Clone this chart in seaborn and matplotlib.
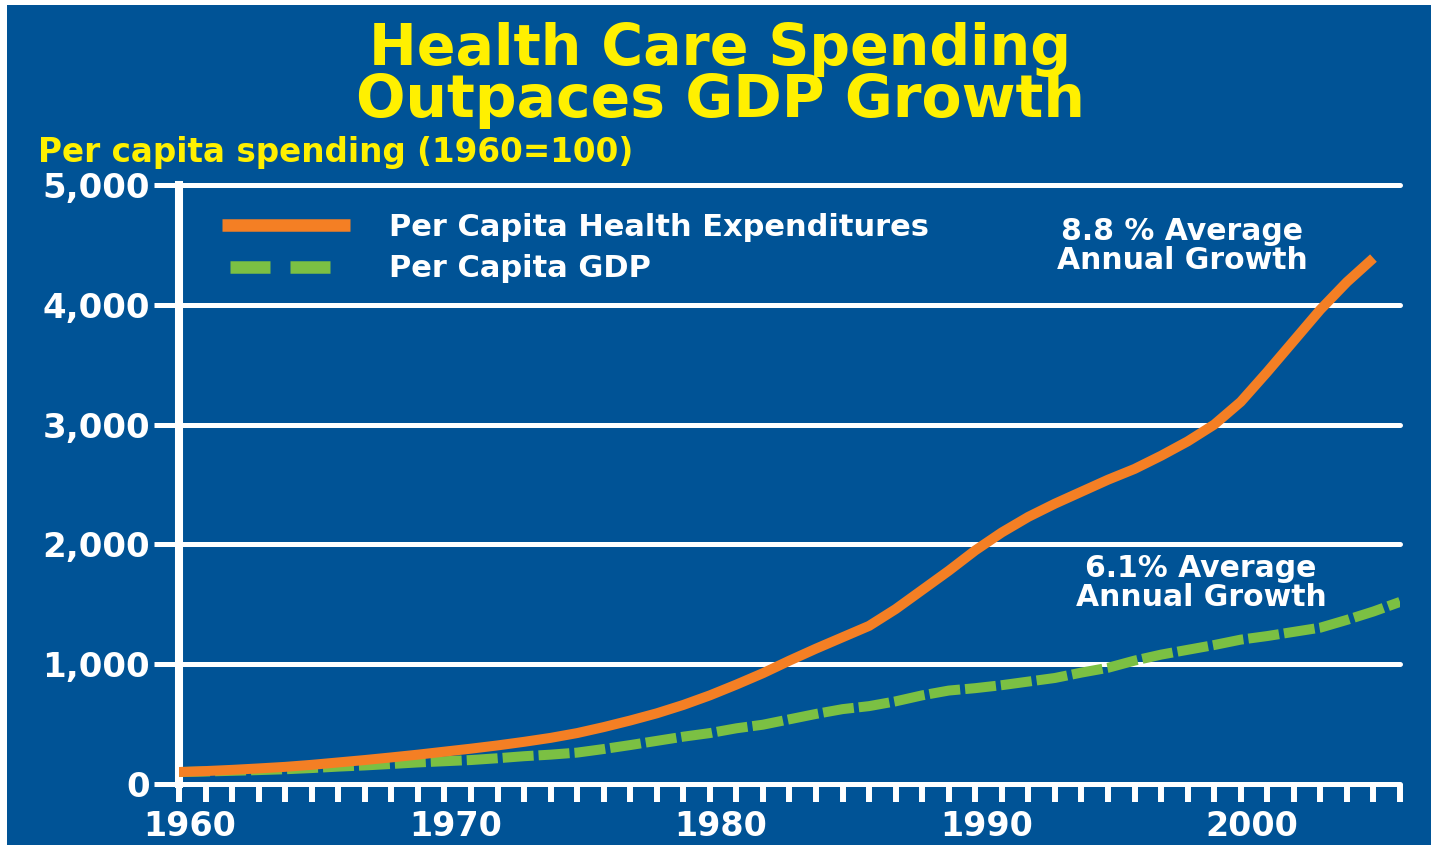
import matplotlib
matplotlib.use("Agg")
import matplotlib.pyplot as plt
import matplotlib.transforms as mtransforms
from matplotlib.lines import Line2D
from matplotlib.patches import Rectangle
import seaborn as sns

# ---- data (index, 1960 = 100) ----
years_health = list(range(1960, 2006))
health = [100, 108, 118, 130, 143, 160, 180, 200, 222, 245,
          270, 295, 322, 352, 385, 425, 475, 530, 590, 660,
          740, 830, 925, 1030, 1130, 1225, 1320, 1460, 1620, 1780,
          1950, 2100, 2230, 2340, 2440, 2540, 2630, 2740, 2860, 3000,
          3190, 3440, 3700, 3960, 4190, 4390]

years_gdp = list(range(1960, 2007))
gdp = [100, 104, 110, 116, 123, 133, 145, 155, 167, 180,
       190, 200, 215, 232, 245, 262, 292, 325, 360, 395,
       425, 465, 495, 540, 585, 625, 650, 690, 740, 780,
       800, 825, 855, 885, 930, 970, 1030, 1080, 1120, 1160,
       1205, 1235, 1270, 1305, 1370, 1440, 1520]

series_names = ["Per Capita Health Expenditures", "Per Capita GDP"]
y_ticks = [0, 1000, 2000, 3000, 4000, 5000]
x_label_years = [1960, 1970, 1980, 1990, 2000]
title_lines = ["Health Care Spending", "Outpaces GDP Growth"]
subtitle = "Per capita spending (1960=100)"
health_note = "8.8 % Average\nAnnual Growth"
gdp_note = "6.1% Average\nAnnual Growth"

# ---- style ----
BLUE = "#005396"
ORANGE = "#F47F24"
GREEN = "#7BC043"
YELLOW = "#FFF000"
WHITE = "#FFFFFF"

sns.set_theme(style="white", rc={"axes.facecolor": BLUE,
                                 "figure.facecolor": WHITE})
plt.rcParams["font.family"] = ["DejaVu Sans"]
plt.rcParams["font.weight"] = "bold"

W, H = 1431, 849
fig = plt.figure(figsize=(W / 100, H / 100), dpi=100)
fig.add_artist(Rectangle((7 / W, 4 / H), 1 - 7 / W, 1 - 9 / H,
                         transform=fig.transFigure, facecolor=BLUE,
                         edgecolor="none", zorder=-10))

ax = fig.add_axes([179 / W, 1 - 784 / H, (1400 - 179) / W, (784 - 185) / H])
ax.set_facecolor(BLUE)

# horizontal rules at every y tick
for v in y_ticks:
    ax.axhline(v, color=WHITE, lw=3.6, zorder=1, clip_on=False)

sns.lineplot(x=years_gdp, y=gdp, ax=ax, color=GREEN, lw=7.2,
             linestyle=(0, (3.1, 0.5)), dash_capstyle="butt",
             zorder=3, legend=False)
sns.lineplot(x=years_health, y=health, ax=ax, color=ORANGE, lw=7.2,
             solid_capstyle="butt", zorder=4, legend=False)

ax.set_xlim(1960, 2006)
ax.set_ylim(0, 5000)
ax.set_xlabel("")
ax.set_ylabel("")

for side in ["top", "right", "bottom"]:
    ax.spines[side].set_visible(False)
ax.spines["left"].set_color(WHITE)
ax.spines["left"].set_linewidth(5.8)
ax.spines["left"].set_bounds(0, 5000)

ax.set_xticks(list(range(1960, 2007)))
ax.set_xticklabels([str(y) if y in x_label_years else "" for y in range(1960, 2007)])
ax.set_yticks(y_ticks)
ax.set_yticklabels([f"{v:,}" for v in y_ticks])
ax.tick_params(axis="x", length=13, width=4.3, color=WHITE, pad=6,
               labelsize=24, labelcolor=WHITE, bottom=True, direction="out")
ax.tick_params(axis="y", length=18, width=3.6, color=WHITE, pad=3,
               labelsize=24.5, labelcolor=WHITE, left=True, direction="out")
shift = mtransforms.ScaledTranslation(0.11, 0, fig.dpi_scale_trans)
for lab in ax.get_xticklabels():
    lab.set_fontweight("bold")
    lab.set_transform(lab.get_transform() + shift)
for lab in ax.get_yticklabels():
    lab.set_fontweight("bold")

# legend
handles = [
    Line2D([], [], color=ORANGE, lw=9, solid_capstyle="butt"),
    Line2D([], [], color=GREEN, lw=9, linestyle=(4.16, (3.2, 1.6)),
           dash_capstyle="butt"),
]
leg = ax.legend(handles, series_names, loc="upper left",
                bbox_to_anchor=(222 / W, 1 - 213 / H),
                bbox_transform=fig.transFigure, frameon=False,
                prop={"size": 22, "weight": "bold"},
                handlelength=4.2, handletextpad=1.25, labelspacing=0.4,
                borderpad=0, borderaxespad=0)
for t in leg.get_texts():
    t.set_color(WHITE)

# growth notes
ax.text(1997.8, 4490, health_note, ha="center", va="center", color=WHITE,
        fontsize=21.5, fontweight="bold", linespacing=1.0)
ax.text(1998.5, 1680, gdp_note, ha="center", va="center", color=WHITE,
        fontsize=21.5, fontweight="bold", linespacing=1.0)

# titles
fig.text(720 / W, 1 - 65 / H, title_lines[0], ha="center", va="baseline",
         fontsize=41, fontweight="bold", color=YELLOW)
fig.text(720 / W, 1 - 117 / H, title_lines[1], ha="center", va="baseline",
         fontsize=42, fontweight="bold", color=YELLOW)
fig.text(38 / W, 1 - 162 / H, subtitle, ha="left", va="baseline",
         fontsize=23.5, fontweight="bold", color=YELLOW)

fig.savefig("out.png", dpi=100, facecolor=WHITE)
